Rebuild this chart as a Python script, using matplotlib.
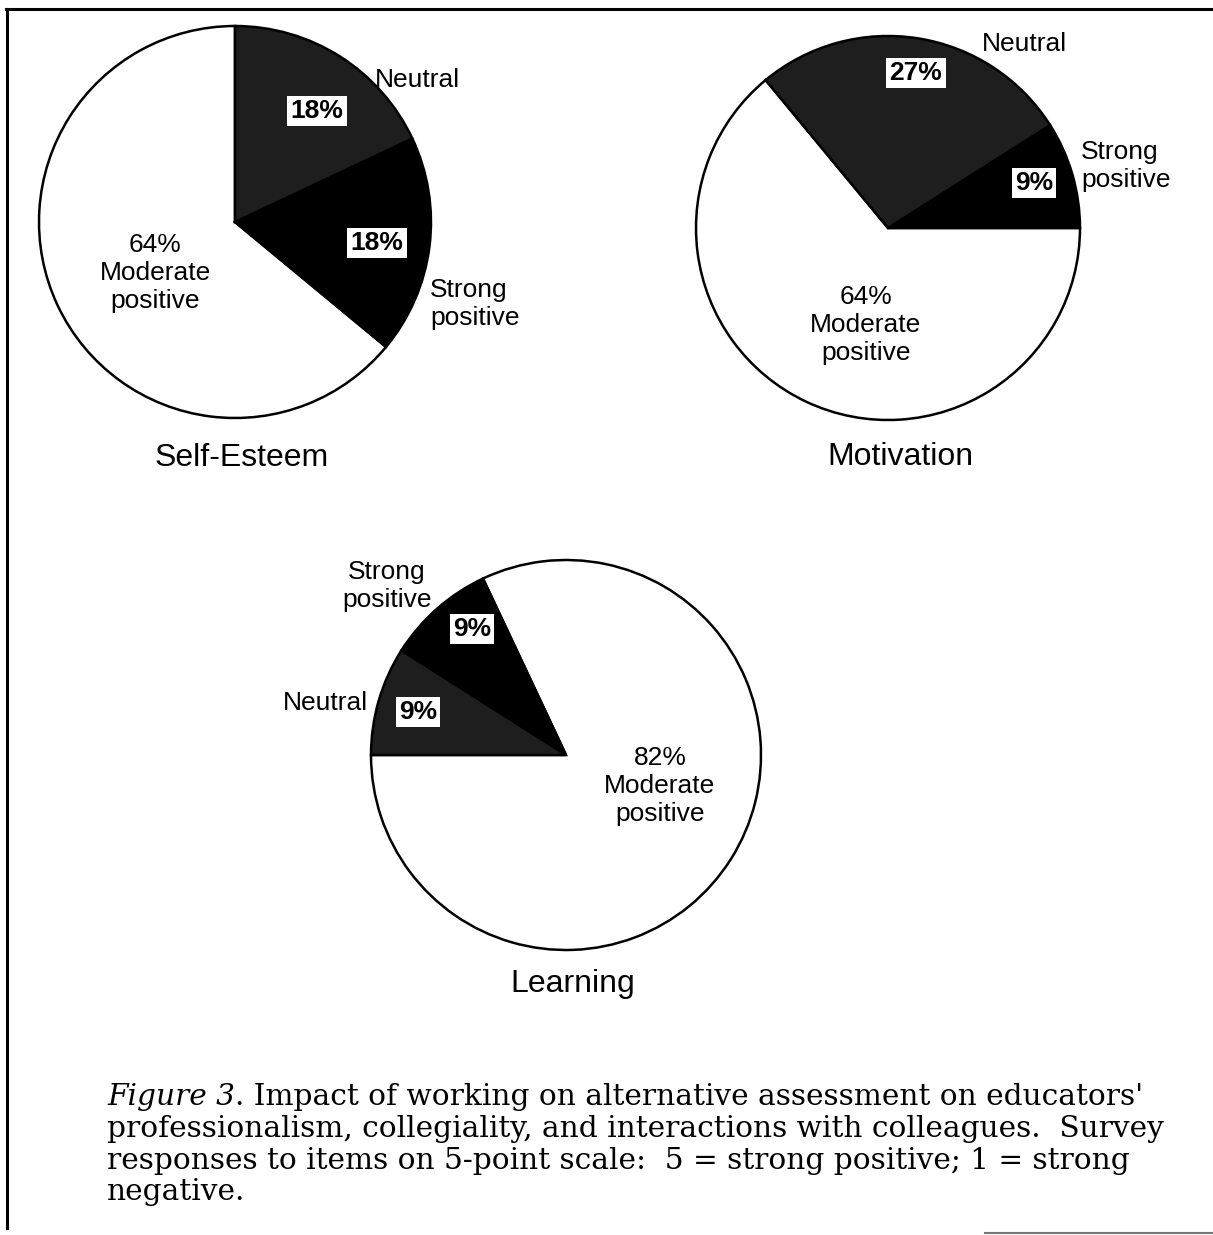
import matplotlib.pyplot as plt
from matplotlib.lines import Line2D

# data (percent of responses)
categories = ['Moderate positive', 'Strong positive', 'Neutral']
self_esteem = [64, 18, 18]
motivation = [64, 9, 27]
learning = [82, 9, 9]
titles = ['Self-Esteem', 'Motivation', 'Learning']

W, H = 1213, 1235
fig = plt.figure(figsize=(W / 100, H / 100), dpi=100)
ax = fig.add_axes([0, 0, 1, 1])
ax.axis('off')

def Y(y):
    # pixel row (from top) -> data y
    return H - y

colors = ['white', 'black', '#1e1e1e']
sans = 'Liberation Sans'
fs = 19

def draw_pie(vals, cx, cy, r, start):
    ax.pie(vals, colors=colors, startangle=start, counterclock=True,
           center=(cx, Y(cy)), radius=r, frame=True,
           wedgeprops=dict(edgecolor='black', linewidth=1.8))

def pct(txt, x, y):
    ax.text(x, Y(y), txt, ha='center', va='center', fontsize=fs, family=sans,
            fontweight='bold', color='black',
            bbox=dict(boxstyle='square,pad=0.12', fc='white', ec='none'))

def lab(txt, x, y, ha='center', size=fs):
    ax.text(x, Y(y), txt, ha=ha, va='center', fontsize=size, family=sans,
            color='black', linespacing=1.2, multialignment='center' if ha == 'center' else 'left')

# Self-Esteem
draw_pie(self_esteem, 235, 222, 196, 90)
pct(f'{self_esteem[2]}%', 317, 111)
pct(f'{self_esteem[1]}%', 377, 243)
lab(f'{self_esteem[0]}%\nModerate\npositive', 155, 273)
lab('Neutral', 417, 80)
lab('Strong\npositive', 430, 304, ha='left')
lab(titles[0], 242, 458, size=23)

# Motivation
draw_pie(motivation, 888, 228, 192, 360 - motivation[0] * 3.6)
pct(f'{motivation[2]}%', 916, 73)
pct(f'{motivation[1]}%', 1034, 183)
lab('Neutral', 1024, 44)
lab('Strong\npositive', 1081, 166, ha='left')
lab(f'{motivation[0]}%\nModerate\npositive', 866, 325)
lab(titles[1], 900, 457, size=23)

# Learning
draw_pie(learning, 566, 755, 195, 180)
pct(f'{learning[1]}%', 472, 629)
pct(f'{learning[2]}%', 418, 712)
lab('Strong\npositive', 387, 586)
lab('Neutral', 325, 703)
lab(f'{learning[0]}%\nModerate\npositive', 660, 786)
lab(titles[2], 573, 984, size=23)

ax.set_xlim(0, W)
ax.set_ylim(0, H)

# frame lines of the scanned page
ax.add_line(Line2D([6, W], [Y(9), Y(9)], color='black', lw=2.2))
ax.add_line(Line2D([7, 7], [Y(9), Y(1228)], color='black', lw=2.2))
ax.add_line(Line2D([985, W], [Y(1233), Y(1233)], color='#777777', lw=1.5))

# caption
serif = 'DejaVu Serif'
cfs = 21.3
rend = fig.canvas.get_renderer()
t = ax.text(107, Y(1097), 'Figure 3', ha='left', va='center', fontsize=cfs,
            family=serif, style='italic')
bb = t.get_window_extent(rend)
ax.text(bb.x1, Y(1097), ". Impact of working on alternative assessment on educators'",
        ha='left', va='center', fontsize=cfs, family=serif)
rest = ['professionalism, collegiality, and interactions with colleagues.  Survey',
        'responses to items on 5-point scale:  5 = strong positive; 1 = strong',
        'negative.']
for i, line in enumerate(rest):
    ax.text(107, Y(1129 + 31.7 * i), line, ha='left', va='center', fontsize=cfs,
            family=serif)

fig.savefig('out.png', dpi=100)
